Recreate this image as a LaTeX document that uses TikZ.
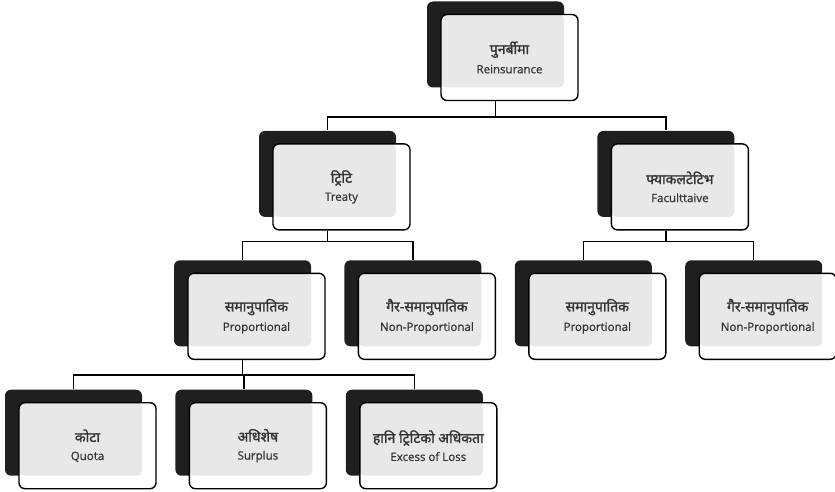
\documentclass[tikz,border=0pt]{standalone}
\usepackage{fontspec}
\setmainfont{Open Sans}
\newfontfamily\deva[Script=Devanagari,FakeBold=1.6]{Noto Sans}
\newfontfamily\latn[FakeBold=0.7]{Open Sans}
\usepackage{tikz}
\usetikzlibrary{positioning,shadows}

\definecolor{backbox}{HTML}{1F1F1F}
\definecolor{boxgray}{HTML}{E8E8E8}
\definecolor{txtgray}{HTML}{333333}

\newcommand{\hi}[1]{{\deva\fontsize{14}{16}\selectfont #1}}
\newcommand{\en}[1]{{\latn\fontsize{11.5}{13}\selectfont #1}}

\begin{document}
\begin{tikzpicture}[node distance=42pt and 32pt,align=center,
    item/.style={draw=black, line width=1.4pt, fill=white, rounded corners=6pt,
      minimum width=137pt, minimum height=86pt, inner sep=2pt, text=txtgray,
      general shadow={fill=backbox, shadow xshift=-14pt, shadow yshift=13pt},
      path picture={\fill[boxgray, rounded corners=5pt] (path picture bounding box.north west)
        rectangle ([xshift=-14pt,yshift=13pt]path picture bounding box.south east);}},
    conn/.style={draw=black, line width=1.4pt}]
  \useasboundingbox (0,0) rectangle (835pt,-492pt);

  \node[item] (reins) at (509.5pt,-57.5pt) {\hi{पुनर्बीमा}\\[6pt]\en{Reinsurance}};
  \node[item, below=42pt of reins, xshift=-168pt] (treaty) {\hi{ट्रिटि}\\[6pt]\en{Treaty}};
  \node[item, right=200pt of treaty] (facult) {\hi{फ्याकलटेटिभ}\\[6pt]\en{Faculttaive}};

  \node[item, below=42pt of treaty, xshift=-85pt] (prop) {\hi{समानुपातिक}\\[6pt]\en{Proportional}};
  \node[item, right=of prop] (nonprop) {\hi{गैर-समानुपातिक}\\[6pt]\en{Non-Proportional}};
  \node[item, right=of nonprop] (fprop) {\hi{समानुपातिक}\\[6pt]\en{Proportional}};
  \node[item, right=of fprop] (fnonprop) {\hi{गैर-समानुपातिक}\\[6pt]\en{Non-Proportional}};

  \node[item, below=42pt of prop, xshift=-169pt] (quota) {\hi{कोटा}\\[6pt]\en{Quota}};
  \node[item, right=of quota] (surplus) {\hi{अधिशेष}\\[6pt]\en{Surplus}};
  \node[item, right=of surplus] (xol) {\hi{हानि ट्रिटिको अधिकता}\\[6pt]\en{Excess of Loss}};

  % connectors
  \draw[conn] ([xshift=-14pt]reins.south) -- ++(0,-16pt) coordinate (bus1);
  \draw[conn] (bus1) -| ([xshift=-14pt,yshift=13pt]treaty.north);
  \draw[conn] (bus1) -| ([xshift=-14pt,yshift=13pt]facult.north);

  \draw[conn] ([xshift=-14pt]treaty.south) -- ++(0,-11pt) coordinate (bus2);
  \draw[conn] (bus2) -| ([xshift=-14pt,yshift=13pt]prop.north);
  \draw[conn] (bus2) -| ([xshift=-14pt,yshift=13pt]nonprop.north);

  \draw[conn] ([xshift=-14pt]facult.south) -- ++(0,-11pt) coordinate (bus3);
  \draw[conn] (bus3) -| ([xshift=-14pt,yshift=13pt]fprop.north);
  \draw[conn] (bus3) -| ([xshift=-14pt,yshift=13pt]fnonprop.north);

  \draw[conn] ([xshift=-14pt]prop.south) -- ++(0,-15pt) coordinate (bus4);
  \draw[conn] (bus4) -| ([xshift=-14pt,yshift=13pt]quota.north);
  \draw[conn] (bus4) -| ([xshift=-14pt,yshift=13pt]surplus.north);
  \draw[conn] (bus4) -| ([xshift=-14pt,yshift=13pt]xol.north);
\end{tikzpicture}
\end{document}
